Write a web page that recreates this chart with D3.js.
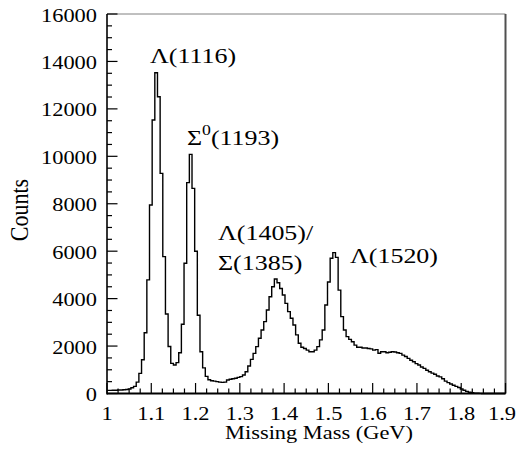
<!DOCTYPE html>
<html>
<head>
<meta charset="utf-8">
<script src="https://cdn.jsdelivr.net/npm/d3@7"></script>
<style>
  html, body { margin: 0; padding: 0; background: #fff; }
  svg { display: block; }
  text { font-family: "Liberation Serif", "Times New Roman", serif; fill: #000; }
</style>
</head>
<body>
<svg id="chart" width="518" height="459"></svg>
<script>
// Missing-mass spectrum, 150 bins of 6 MeV from 1.0 to 1.9 GeV
const massRange = [1.0, 1.9];
const counts = [
  130, 130, 140, 140, 150, 150, 160, 170, 190, 240,
  300, 480, 850, 1420, 2560, 4790, 7950, 11530, 13520, 12510,
  9280, 5770, 3350, 1980, 1270, 1200, 1300, 1720, 2920, 5490,
  8890, 10080, 8650, 6000, 3300, 1760, 1080, 720, 580, 540,
  520, 500, 480, 470, 480, 570, 600, 620, 640, 680,
  710, 780, 920, 1160, 1440, 1690, 1975, 2330, 2680, 3030,
  3520, 4080, 4500, 4830, 4670, 4430, 4150, 3800, 3450, 3170,
  2890, 2470, 2120, 1950, 1900, 1830, 1760, 1760, 1830, 1975,
  2260, 2680, 3730, 4700, 5700, 5940, 5740, 4360, 3240, 2680,
  2400, 2280, 2180, 2040, 1950, 1950, 1920, 1920, 1900, 1880,
  1830, 1850, 1700, 1760, 1760, 1720, 1740, 1760, 1750, 1720,
  1690, 1620, 1560, 1480, 1400, 1340, 1260, 1200, 1120, 1060,
  980, 920, 860, 810, 740, 700, 620, 520, 460, 400,
  350, 300, 250, 190, 140, 90, 55, 30, 15, 10,
  5, 0, 0, 0, 0, 0, 0, 0, 0, 0
];

// Axis ticks
const xMajorTicks = [1, 1.1, 1.2, 1.3, 1.4, 1.5, 1.6, 1.7, 1.8, 1.9];
const xTickLabels = ["1", "1.1", "1.2", "1.3", "1.4", "1.5", "1.6", "1.7", "1.8", "1.9"];
const yMajorTicks = [0, 2000, 4000, 6000, 8000, 10000, 12000, 14000, 16000];
const yTickLabels = ["0", "2000", "4000", "6000", "8000", "10000", "12000", "14000", "16000"];

// Resonance labels
const peakLabels = [
  { base: "Λ(1116)", sup: null, tail: null },
  { base: "Σ", sup: "0", tail: "(1193)" },
  { base: "Λ(1405)/", sup: null, tail: null },
  { base: "Σ(1385)", sup: null, tail: null },
  { base: "Λ(1520)", sup: null, tail: null }
];

(function draw() {
  const svg = d3.select("#chart");
  const W = 518;
  const mLeft = 107, mRight = 505.5, mTop = 14, mBottom = 393.5;
  const SX = 1.18; // horizontal text stretch of the typeface

  const x = d3.scaleLinear().domain(massRange).range([mLeft, mRight]);
  const y = d3.scaleLinear().domain([0, 16000]).range([mBottom, mTop]);

  // frame: top and right edges
  svg.append("line").attr("x1", mLeft).attr("x2", mRight).attr("y1", mTop).attr("y2", mTop)
    .attr("stroke", "#808080").attr("stroke-width", 1);
  svg.append("line").attr("x1", mRight).attr("x2", mRight).attr("y1", mTop).attr("y2", mBottom)
    .attr("stroke", "#505050").attr("stroke-width", 2);

  // histogram outline
  const binW = (massRange[1] - massRange[0]) / counts.length;
  const pts = counts.map((c, i) => [massRange[0] + i * binW, c]);
  pts.push([massRange[0] + counts.length * binW, counts[counts.length - 1]]);
  const line = d3.line().x(d => x(d[0])).y(d => y(d[1])).curve(d3.curveStepAfter);
  svg.append("path").datum(pts).attr("d", line)
    .attr("fill", "none").attr("stroke", "#000").attr("stroke-width", 1.4)
    .attr("stroke-linejoin", "miter");

  // x axis: ticks point up into the frame
  const xMinor = d3.range(0, 37).map(i => 1 + i * 0.025);
  const gx = svg.append("g");
  gx.selectAll("line.tick").data(xMinor).join("line")
    .attr("x1", d => x(d)).attr("x2", d => x(d))
    .attr("y1", mBottom).attr("y2", d => {
      const isMajor = Math.abs(d * 10 - Math.round(d * 10)) < 1e-6;
      return mBottom - (isMajor ? 10.5 : 5);
    })
    .attr("stroke", "#000").attr("stroke-width", 1.2);
  gx.append("line").attr("x1", mLeft).attr("x2", mRight).attr("y1", mBottom).attr("y2", mBottom)
    .attr("stroke", "#000").attr("stroke-width", 2);
  // the last label would overhang the page edge when centred, so it is right-aligned there
  gx.selectAll("text").data(xMajorTicks).join("text")
    .attr("transform", (d, i) => {
      const last = i === xMajorTicks.length - 1;
      return `translate(${last ? W - 2 : x(d)},${mBottom + 26}) scale(${SX},1)`;
    })
    .attr("text-anchor", (d, i) => i === xMajorTicks.length - 1 ? "end" : "middle")
    .attr("font-size", 19)
    .text((d, i) => xTickLabels[i]);

  // y axis: ticks point right into the frame
  const yMinor = d3.range(0, 33).map(i => i * 500);
  const gy = svg.append("g");
  gy.selectAll("line").data(yMinor).join("line")
    .attr("x1", mLeft).attr("x2", d => mLeft + (d % 2000 === 0 ? 10.5 : 5))
    .attr("y1", d => y(d)).attr("y2", d => y(d))
    .attr("stroke", "#000").attr("stroke-width", 1.2);
  gy.append("line").attr("x1", mLeft).attr("x2", mLeft).attr("y1", mTop).attr("y2", mBottom + 1)
    .attr("stroke", "#000").attr("stroke-width", 1.6);
  gy.selectAll("text").data(yMajorTicks).join("text")
    .attr("transform", d => `translate(${mLeft - 10},${y(d) + 7.5}) scale(${SX},1)`)
    .attr("text-anchor", "end").attr("font-size", 19)
    .text((d, i) => yTickLabels[i]);

  // axis titles
  svg.append("text")
    .attr("transform", `translate(413,439) scale(${SX},1)`)
    .attr("text-anchor", "end").attr("font-size", 19)
    .text("Missing Mass (GeV)");
  svg.append("text")
    .attr("transform", `translate(28,210) scale(${SX},1) rotate(-90)`)
    .attr("text-anchor", "middle").attr("font-size", 22)
    .text("Counts");

  // resonance labels
  const labelPos = [[150, 63], [187, 145], [218, 240], [218, 270], [350, 263]];
  peakLabels.forEach((p, i) => {
    const t = svg.append("text")
      .attr("transform", `translate(${labelPos[i][0]},${labelPos[i][1]}) scale(${SX},1)`)
      .attr("font-size", 22);
    t.append("tspan").text(p.base);
    if (p.sup) {
      t.append("tspan").attr("font-size", 15).attr("dy", -10).text(p.sup);
      t.append("tspan").attr("dy", 10).text(p.tail);
    }
  });
})();
</script>
</body>
</html>
